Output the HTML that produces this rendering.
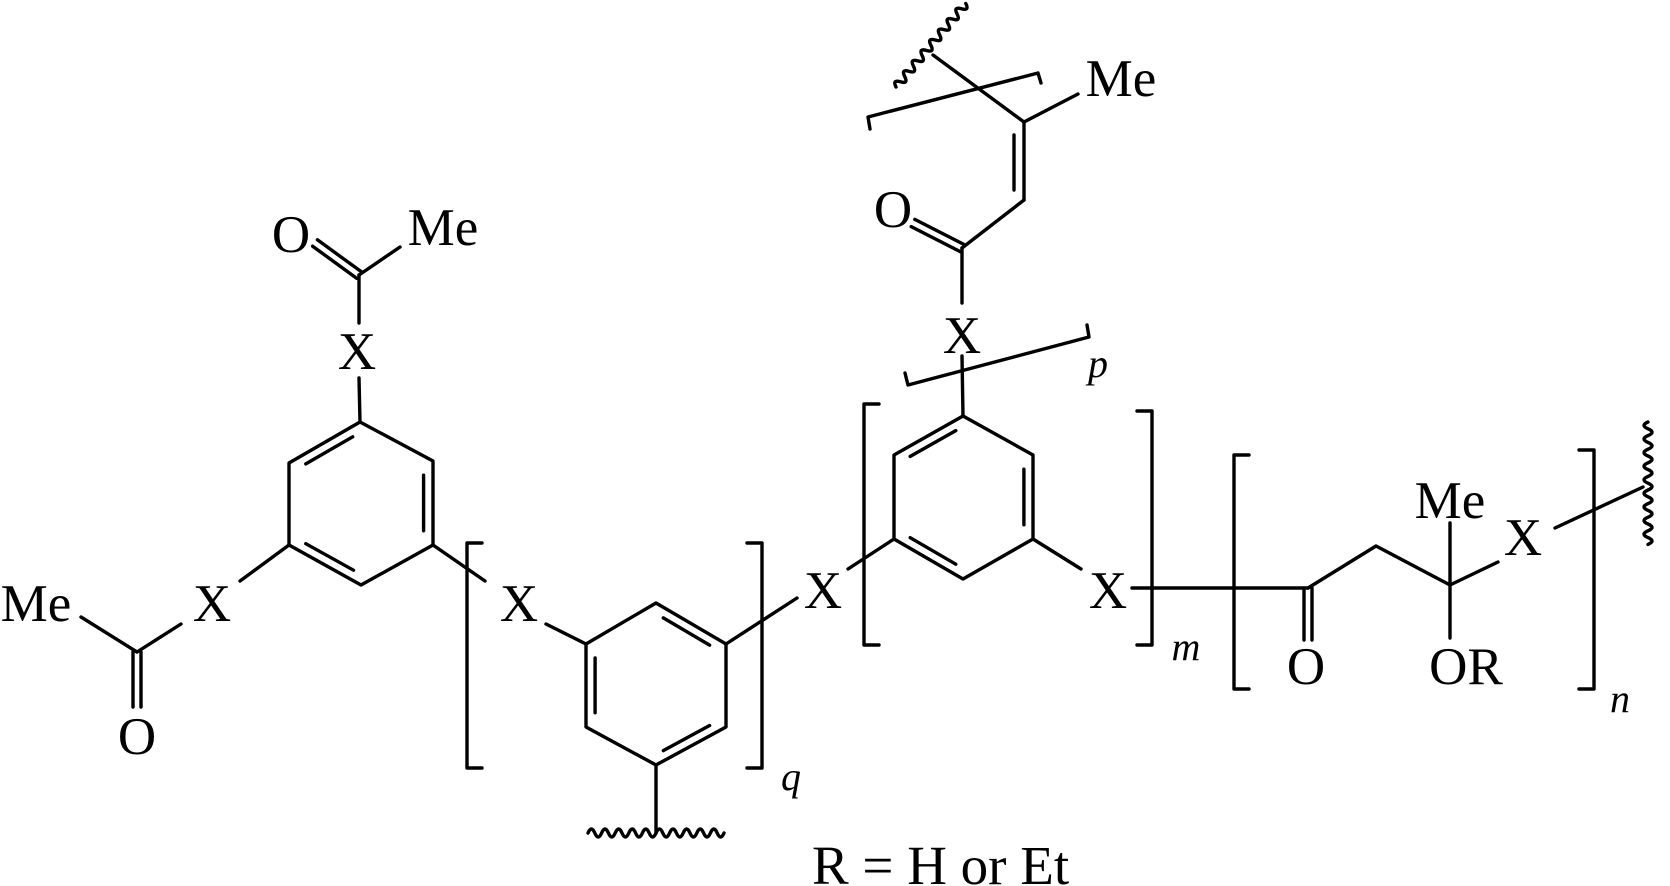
<!DOCTYPE html>
<html><head><meta charset="utf-8"><style>
html,body{margin:0;padding:0;background:#fff;}
svg{display:block;}
text{font-family:"Liberation Serif",serif;font-size:53px;fill:#000;}
.i{font-style:italic;font-size:40px;}
</style></head><body>
<svg width="1670" height="886" viewBox="0 0 1670 886" xmlns="http://www.w3.org/2000/svg">
<g stroke="#000" stroke-width="3.4" fill="none" stroke-linecap="round" stroke-linejoin="round">
<polygon points="360,422 289,463 289,545 361,585 433,545 433,461"/>
<line x1="305.8" y1="463.9" x2="352.7" y2="436.8"/>
<line x1="423.6" y1="530.8" x2="423.6" y2="475.2"/>
<line x1="305.8" y1="543.7" x2="353.5" y2="570.2"/>
<line x1="360" y1="422" x2="359" y2="378"/>
<line x1="359" y1="323" x2="359" y2="275"/>
<line x1="361.4" y1="271.8" x2="317.4" y2="239.8"/>
<line x1="356.6" y1="278.2" x2="312.6" y2="246.2"/>
<line x1="359" y1="275" x2="400" y2="247"/>
<line x1="289" y1="545" x2="240" y2="581"/>
<line x1="181" y1="624" x2="137" y2="652"/>
<line x1="137" y1="652" x2="81" y2="617"/>
<line x1="133" y1="652" x2="133" y2="707"/>
<line x1="141" y1="652" x2="141" y2="707"/>
<line x1="433" y1="545" x2="485" y2="581"/>
<line x1="546" y1="624" x2="586" y2="644"/>
<polygon points="656,603 586,644 586,727 656,765 726,727 726,644"/>
<line x1="663.3" y1="617.9" x2="709.6" y2="645.1"/>
<line x1="595.1" y1="658" x2="595.1" y2="712.8"/>
<line x1="709.6" y1="725.5" x2="663.3" y2="750.6"/>
<line x1="726" y1="644" x2="797" y2="598"/>
<line x1="656" y1="765" x2="656" y2="833"/>
<path d="M588 833 q3.4 -8 6.8 0 t6.8 0 t6.8 0 t6.8 0 t6.8 0 t6.8 0 t6.8 0 t6.8 0 t6.8 0 t6.8 0 t6.8 0 t6.8 0 t6.8 0 t6.8 0 t6.8 0 t6.8 0 t6.8 0 t6.8 0 t6.8 0 t6.8 0"/>
<path d="M482 543 H467 V768 H482"/>
<path d="M747 543 H762 V768 H747"/>
<line x1="848" y1="569" x2="894" y2="539"/>
<polygon points="963,416 894,455 894,539 963,579 1033,539 1033,455"/>
<line x1="955.8" y1="430.6" x2="910.2" y2="456.4"/>
<line x1="1023.9" y1="469.2" x2="1023.9" y2="524.8"/>
<line x1="910.2" y1="537.7" x2="955.8" y2="564.2"/>
<line x1="1033" y1="539" x2="1081" y2="569"/>
<line x1="1132" y1="588" x2="1308" y2="588"/>
<path d="M879 404 H864 V645 H879"/>
<path d="M1137 411 H1152 V645 H1137"/>
<path d="M1249 455 H1234 V689 H1249"/>
<path d="M1579 450 H1594 V689 H1579"/>
<line x1="1304" y1="588" x2="1304" y2="640"/>
<line x1="1312" y1="588" x2="1312" y2="640"/>
<polyline points="1308,588 1376,546 1450,585"/>
<line x1="1450" y1="585" x2="1450" y2="523"/>
<line x1="1450" y1="585" x2="1450" y2="638"/>
<line x1="1450" y1="585" x2="1498" y2="562"/>
<line x1="1555" y1="528" x2="1643" y2="487"/>
<path d="M1648 422 q-8 3.4 0 6.8 t0 6.8 t0 6.8 t0 6.8 t0 6.8 t0 6.8 t0 6.8 t0 6.8 t0 6.8 t0 6.8 t0 6.8 t0 6.8 t0 6.8 t0 6.8 t0 6.8 t0 6.8 t0 6.8 t0 6.8"/>
<line x1="963" y1="416" x2="962" y2="356"/>
<path d="M905 373 L908 385 L1089 337 L1087 325"/>
<line x1="962" y1="303" x2="962" y2="248"/>
<line x1="963.8" y1="244.4" x2="914.8" y2="219.4"/>
<line x1="960.2" y1="251.6" x2="911.2" y2="226.6"/>
<line x1="962" y1="248" x2="1024" y2="200"/>
<line x1="1024" y1="200" x2="1024" y2="122"/>
<line x1="1014" y1="135" x2="1014" y2="190"/>
<line x1="1024" y1="122" x2="1078" y2="94"/>
<line x1="1024" y1="122" x2="933" y2="55"/>
<path d="M870 129 L868 117 L1038 73 L1041 83"/>
<path transform="translate(896,87) rotate(-50.1)" d="M0 0 q3.4 -8 6.8 0 t6.8 0 t6.8 0 t6.8 0 t6.8 0 t6.8 0 t6.8 0 t6.8 0 t6.8 0 t6.8 0 t6.8 0 t6.8 0 t6.8 0 t6.8 0 t6.8 0 t6.8 0"/>
</g>
<g text-anchor="middle">
<text x="443" y="245">Me</text>
<text x="291" y="252">O</text>
<text x="357" y="369">X</text>
<text x="212" y="621">X</text>
<text x="36" y="621">Me</text>
<text x="137" y="754">O</text>
<text x="519" y="621">X</text>
<text x="823" y="608">X</text>
<text x="1108" y="608">X</text>
<text x="962" y="353">X</text>
<text x="893" y="227">O</text>
<text x="1121" y="96">Me</text>
<text x="1450" y="518">Me</text>
<text x="1306" y="684">O</text>
<text x="1466" y="684">OR</text>
<text x="1523" y="555">X</text>
<text class="i" x="791" y="790">q</text>
<text class="i" x="1186" y="660">m</text>
<text class="i" x="1620" y="712">n</text>
<text class="i" x="1098" y="377">p</text>
</g>
<text x="812" y="884" style="font-size:55px">R = H or Et</text>
</svg>
</body></html>
